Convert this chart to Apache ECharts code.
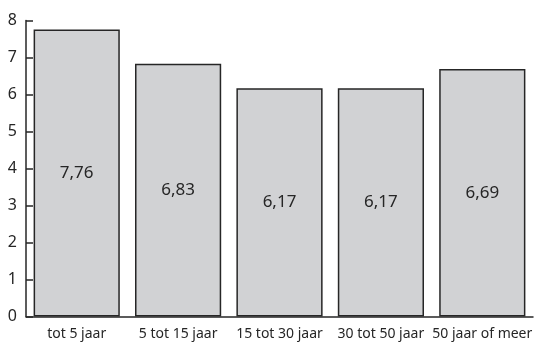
<!DOCTYPE html>
<html>
<head>
<meta charset="utf-8">
<script src="https://cdn.jsdelivr.net/npm/echarts@6/dist/echarts.min.js"></script>
<style>
  html, body { margin: 0; padding: 0; background: #ffffff; }
  #chart { width: 535px; height: 343px; }
</style>
</head>
<body>
<div id="chart"></div>
<script>
// Average scores per duration group
const categories = ['tot 5 jaar', '5 tot 15 jaar', '15 tot 30 jaar', '30 tot 50 jaar', '50 jaar of meer'];
const scores = [7.76, 6.83, 6.17, 6.17, 6.69];
const yTicks = [0, 1, 2, 3, 4, 5, 6, 7, 8];

const fontFamily = '"Noto Sans", "Open Sans", sans-serif';
const ink = '#262626';

const chart = echarts.init(document.getElementById('chart'), null, { renderer: 'canvas' });
chart.setOption({
  animation: false,
  backgroundColor: '#ffffff',
  grid: { left: 26, top: 20.5, width: 510, height: 296, containLabel: false },
  xAxis: {
    type: 'category',
    data: categories,
    axisLine: { show: true, lineStyle: { color: ink, width: 1.5 } },
    axisTick: { show: false },
    axisLabel: { color: ink, fontSize: 14, fontFamily: fontFamily, margin: 11, interval: 0 }
  },
  yAxis: {
    type: 'value',
    min: yTicks[0],
    max: yTicks[yTicks.length - 1],
    interval: 1,
    axisLine: { show: true, lineStyle: { color: ink, width: 1.5 } },
    axisTick: { show: true, inside: true, length: 7, lineStyle: { color: ink, width: 1.5 } },
    axisLabel: { color: ink, fontSize: 16, fontFamily: fontFamily, margin: 9 },
    splitLine: { show: false }
  },
  series: [{
    type: 'bar',
    data: scores,
    barCategoryGap: '15%',
    itemStyle: { color: '#d1d2d4', borderColor: ink, borderWidth: 1.5 },
    label: {
      show: true,
      position: 'inside',
      color: ink,
      fontSize: 17,
      fontFamily: fontFamily,
      formatter: p => p.value.toFixed(2).replace('.', ',')
    }
  }]
});
</script>
</body>
</html>
